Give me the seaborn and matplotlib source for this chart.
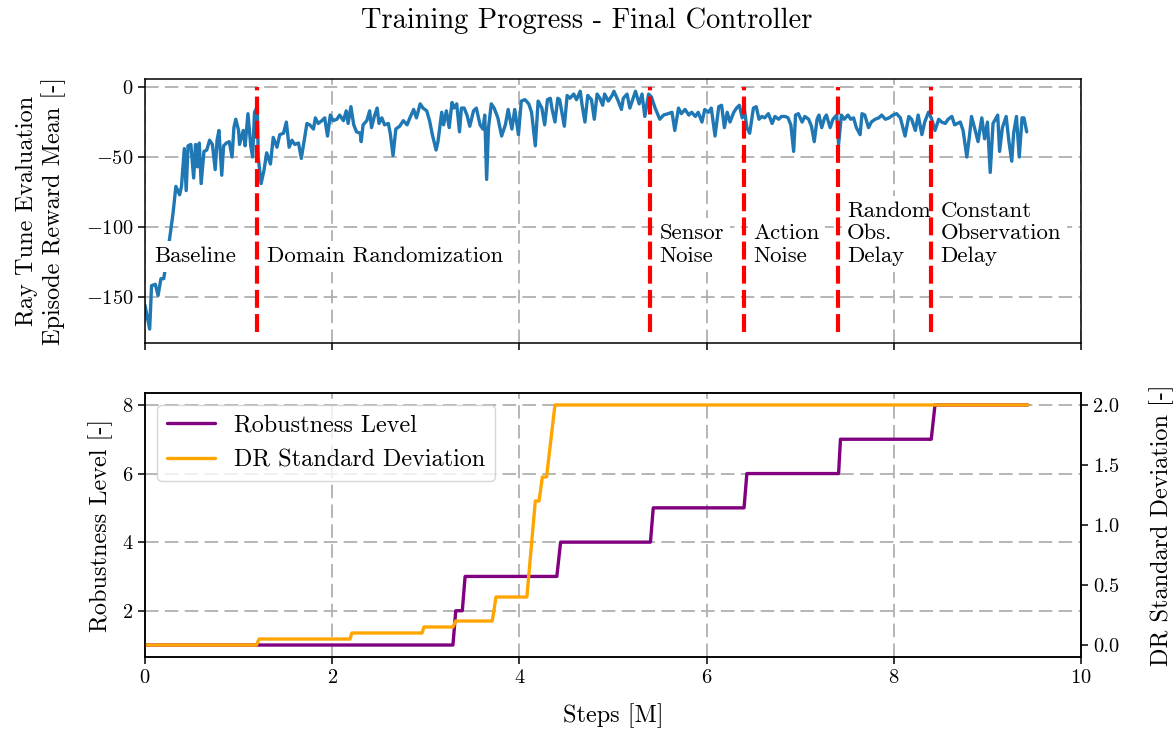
import numpy as np
import pandas as pd
import matplotlib
matplotlib.use("Agg")
import matplotlib.pyplot as plt
import seaborn as sns

# ---------------- data ----------------
reward_steps = [
    0.00, 0.05, 0.07, 0.11, 0.14, 0.17, 0.20, 0.23, 0.27, 0.30, 0.33, 0.37, 0.39, 0.42, 0.44, 0.46,
    0.49, 0.52, 0.54, 0.56, 0.58, 0.60, 0.63, 0.66, 0.69, 0.72, 0.75, 0.77, 0.79, 0.82, 0.84, 0.87,
    0.90, 0.93, 0.95, 0.97, 1.00, 1.01, 1.05, 1.07, 1.10, 1.13, 1.15, 1.17, 1.20, 1.21, 1.24, 1.27,
    1.30, 1.34, 1.37, 1.41, 1.44, 1.48, 1.51, 1.54, 1.57, 1.60, 1.64, 1.67, 1.73, 1.76, 1.80, 1.82,
    1.85, 1.89, 1.92, 1.95, 1.98, 2.01, 2.05, 2.08, 2.12, 2.15, 2.17, 2.20, 2.23, 2.26, 2.30, 2.31,
    2.33, 2.37, 2.40, 2.42, 2.45, 2.48, 2.50, 2.53, 2.56, 2.60, 2.62, 2.65, 2.68, 2.72, 2.76, 2.80,
    2.83, 2.87, 2.90, 2.94, 2.97, 3.01, 3.04, 3.07, 3.11, 3.13, 3.17, 3.19, 3.22, 3.25, 3.28, 3.30,
    3.33, 3.36, 3.38, 3.41, 3.44, 3.47, 3.51, 3.54, 3.58, 3.61, 3.63, 3.65, 3.67, 3.70, 3.73, 3.77,
    3.81, 3.85, 3.88, 3.92, 3.95, 3.99, 4.02, 4.06, 4.10, 4.13, 4.17, 4.20, 4.24, 4.27, 4.30, 4.33,
    4.35, 4.38, 4.41, 4.43, 4.48, 4.51, 4.54, 4.58, 4.61, 4.65, 4.67, 4.70, 4.73, 4.77, 4.80, 4.83,
    4.86, 4.89, 4.91, 4.95, 4.99, 5.01, 5.05, 5.09, 5.11, 5.15, 5.18, 5.22, 5.24, 5.28, 5.31, 5.34,
    5.38, 5.41, 5.45, 5.50, 5.54, 5.59, 5.63, 5.66, 5.70, 5.73, 5.77, 5.81, 5.84, 5.88, 5.91, 5.95,
    5.98, 6.02, 6.05, 6.09, 6.13, 6.16, 6.19, 6.22, 6.25, 6.29, 6.32, 6.35, 6.38, 6.40, 6.43, 6.46,
    6.50, 6.53, 6.56, 6.59, 6.62, 6.66, 6.70, 6.73, 6.77, 6.80, 6.84, 6.87, 6.90, 6.93, 6.95, 6.98,
    7.02, 7.05, 7.09, 7.12, 7.15, 7.18, 7.20, 7.23, 7.26, 7.28, 7.32, 7.35, 7.39, 7.41, 7.44, 7.47,
    7.51, 7.54, 7.57, 7.60, 7.64, 7.66, 7.69, 7.73, 7.76, 7.80, 7.84, 7.87, 7.91, 7.95, 7.99, 8.03,
    8.07, 8.12, 8.16, 8.19, 8.23, 8.26, 8.30, 8.33, 8.37, 8.40, 8.44, 8.48, 8.51, 8.55, 8.58, 8.62,
    8.65, 8.71, 8.74, 8.78, 8.81, 8.83, 8.87, 8.90, 8.94, 8.97, 9.00, 9.03, 9.06, 9.11, 9.13, 9.16,
    9.20, 9.23, 9.26, 9.28, 9.31, 9.34, 9.37, 9.39, 9.42,
]
reward_mean = [
    -156, -173, -142, -141, -149, -137, -137, -124, -105, -90, -71, -77, -71, -44, -74, -42,
    -41, -65, -41, -57, -40, -69, -46, -45, -38, -41, -59, -38, -31, -63, -42, -40,
    -39, -50, -29, -23, -31, -41, -31, -42, -19, -42, -50, -18, -14, -50, -69, -60,
    -47, -55, -36, -43, -34, -33, -25, -43, -38, -41, -40, -51, -26, -27, -30, -22,
    -26, -24, -22, -35, -20, -24, -23, -20, -24, -17, -26, -14, -27, -32, -33, -39,
    -27, -24, -17, -29, -21, -15, -26, -22, -27, -26, -33, -49, -30, -28, -24, -27,
    -22, -16, -22, -12, -15, -17, -24, -34, -45, -39, -18, -27, -17, -29, -11, -15,
    -12, -32, -15, -15, -20, -28, -17, -15, -27, -30, -20, -66, -29, -12, -15, -22,
    -35, -27, -16, -30, -16, -34, -10, -9, -12, -18, -42, -10, -15, -27, -9, -8,
    -16, -25, -8, -9, -28, -6, -8, -5, -9, -3, -13, -25, -6, -9, -23, -5,
    -8, -13, -5, -10, -6, -3, -9, -16, -8, -5, -15, -7, -3, -12, -5, -21,
    -5, -7, -15, -23, -20, -19, -18, -31, -15, -19, -16, -20, -18, -21, -18, -25,
    -16, -18, -15, -35, -14, -13, -29, -18, -25, -18, -15, -13, -22, -14, -29, -33,
    -15, -14, -23, -21, -22, -19, -26, -21, -23, -21, -21, -22, -27, -46, -20, -19,
    -25, -21, -23, -28, -39, -23, -20, -29, -22, -20, -29, -23, -20, -41, -20, -23,
    -20, -23, -22, -29, -34, -19, -20, -29, -25, -23, -22, -20, -23, -22, -20, -19,
    -22, -35, -21, -23, -31, -20, -34, -25, -18, -22, -31, -23, -25, -26, -23, -21,
    -27, -25, -31, -50, -34, -21, -31, -39, -22, -37, -25, -61, -26, -20, -46, -29,
    -21, -39, -53, -33, -21, -50, -22, -22, -32,
]

stage_starts = [1.2, 5.4, 6.4, 7.4, 8.4]
stage_labels = ["Baseline", "Domain Randomization", "Sensor\nNoise", "Action\nNoise",
                "Random\nObs.\nDelay", "Constant\nObservation\nDelay"]
stage_label_x = [0.1, 1.3, 5.5, 6.5, 7.5, 8.5]

robust_steps = [0.0, 3.29, 3.32, 3.39, 3.42, 4.40, 4.44, 5.40, 5.43, 6.40, 6.43,
                7.41, 7.43, 8.40, 8.44, 9.43]
robust_level = [1, 1, 2, 2, 3, 3, 4, 4, 5, 5, 6, 6, 7, 7, 8, 8]

dr_steps = [0.0, 1.19, 1.22, 2.19, 2.21, 2.96, 2.98, 3.29, 3.32, 3.71, 3.75,
            4.08, 4.17, 4.21, 4.245, 4.29, 4.38, 9.43]
dr_std = [0.0, 0.0, 0.05, 0.05, 0.10, 0.10, 0.15, 0.15, 0.20, 0.20, 0.40,
          0.40, 1.20, 1.20, 1.40, 1.40, 2.00, 2.00]

# ---------------- style ----------------
sns.set_style("ticks")
plt.rcParams.update({
    "font.family": "serif",
    "font.serif": ["cmr10"],
    "mathtext.fontset": "cm",
    "axes.formatter.use_mathtext": True,
    "axes.unicode_minus": True,
    "axes.edgecolor": "black",
    "axes.linewidth": 1.1,
    "xtick.direction": "out",
    "ytick.direction": "out",
    "xtick.major.size": 5,
    "ytick.major.size": 5,
    "xtick.major.width": 1.1,
    "ytick.major.width": 1.1,
    "xtick.labelsize": 14.7,
    "ytick.labelsize": 14.7,
    "xtick.color": "black",
    "ytick.color": "black",
    "text.color": "black",
    "axes.labelcolor": "black",
})

grid_kw = dict(color="#b0b0b0", linestyle=(0, (7.5, 3.5)), linewidth=1.3)

fig, (ax1, ax2) = plt.subplots(2, 1, figsize=(11.74, 7.36), dpi=100, sharex=True)
fig.subplots_adjust(left=0.1235, right=0.9208, top=0.8927, bottom=0.1073, hspace=0.189)

# ---------- top panel ----------
df_r = pd.DataFrame({"steps": reward_steps, "reward": reward_mean})
sns.lineplot(data=df_r, x="steps", y="reward", ax=ax1, color="#1f77b4",
             linewidth=2.4, estimator=None, zorder=2)
for xl, lab in zip(stage_label_x, stage_labels):
    ax1.text(xl, -128, lab, fontsize=16.4, ha="left", va="bottom", zorder=3,
             bbox=dict(facecolor="white", edgecolor="none"))
ax1.vlines(stage_starts, -175, 0, colors="red", linestyles=(0, (4.3, 1.5)),
           linewidth=3.0, zorder=4)
ax1.set_xlim(0, 10)
ax1.set_ylim(-183, 5.8)
ax1.set_yticks([0, -50, -100, -150])
ax1.grid(True, **grid_kw)
ax1.set_axisbelow(True)
ax1.set_xlabel("")
ax1.set_ylabel("Ray Tune Evaluation\nEpisode Reward Mean [-]", fontsize=17.5, labelpad=14)
ax1.tick_params(labelbottom=False)

# ---------- bottom panel ----------
df_rob = pd.DataFrame({"steps": robust_steps, "level": robust_level})
df_dr = pd.DataFrame({"steps": dr_steps, "std": dr_std})
sns.lineplot(data=df_rob, x="steps", y="level", ax=ax2, color="purple",
             linewidth=2.4, estimator=None, label="Robustness Level")
ax2b = ax2.twinx()
sns.lineplot(data=df_dr, x="steps", y="std", ax=ax2b, color="orange",
             linewidth=2.4, estimator=None, label="DR Standard Deviation")
ax2.grid(True, **grid_kw)
ax2.set_axisbelow(True)
ax2.set_xlim(0, 10)
ax2.set_xticks([0, 2, 4, 6, 8, 10])
ax2.set_yticks([2, 4, 6, 8])
ax2b.set_yticks([0.0, 0.5, 1.0, 1.5, 2.0])
ax2b.yaxis.set_major_formatter(matplotlib.ticker.FormatStrFormatter("%.1f"))
ax2.set_xlabel("Steps [M]", fontsize=17.5, labelpad=12)
ax2.set_ylabel("Robustness Level [-]", fontsize=17.5, labelpad=6)
ax2b.set_ylabel("DR Standard Deviation [-]", fontsize=17.5, labelpad=22)
for sp in ax2b.spines.values():
    sp.set_visible(True)
    sp.set_linewidth(1.1)
    sp.set_color("black")

h1, l1 = ax2.get_legend_handles_labels()
h2, l2 = ax2b.get_legend_handles_labels()
if ax2.get_legend() is not None:
    ax2.get_legend().remove()
if ax2b.get_legend() is not None:
    ax2b.get_legend().remove()
ax2b.legend(h1 + h2, l1 + l2, loc="upper left", fontsize=17.4, frameon=True,
            fancybox=True, framealpha=0.8, edgecolor="#cccccc")

fig.suptitle("Training Progress - Final Controller", fontsize=20.5, y=0.99, va="top")

fig.savefig("out.png", dpi=100)
